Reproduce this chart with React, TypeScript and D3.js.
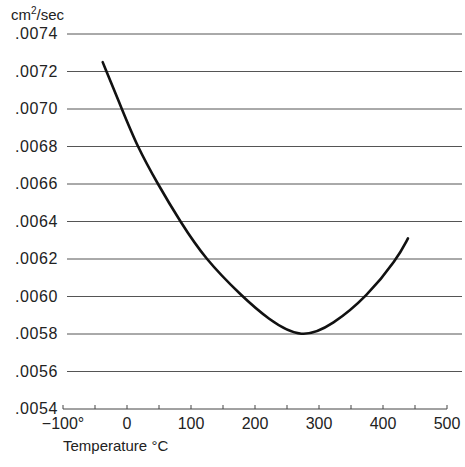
import React from "react";
import * as d3 from "d3";

const temps = [-38, -8, 16, 48, 83, 122, 180, 220, 273, 322, 375, 422, 439];
const diffusivity = [0.00725, 0.007, 0.0068, 0.0066, 0.0064, 0.0062, 0.006, 0.00588, 0.00577, 0.00585, 0.006, 0.0062, 0.00631];
const yTicks = [0.0054, 0.0056, 0.0058, 0.006, 0.0062, 0.0064, 0.0066, 0.0068, 0.007, 0.0072, 0.0074];
const xTicks = [-100, 0, 100, 200, 300, 400, 500];
const xTickLabels = ["\u2212100\u00b0", "0", "100", "200", "300", "400", "500"];

const width = 465;
const height = 467;
const font = "'Liberation Sans', Arial, sans-serif";

export default function App() {
  const x = d3.scaleLinear().domain([-100, 500]).range([63, 447]);
  const y = d3.scaleLinear().domain([0.0054, 0.0074]).range([409, 34]);

  const line = d3
    .line<number>()
    .x((d, i) => x(temps[i]))
    .y((d) => y(d))
    .curve(d3.curveBasis);

  const minorTicks = d3.range(-100, 501, 50);

  return (
    <svg width={width} height={height} style={{ position: "absolute", left: 0, top: 0, background: "#fff" }}>
      {/* gridlines */}
      {yTicks.slice(1).map((t) => (
        <line key={t} x1={67} x2={462} y1={y(t)} y2={y(t)} stroke="#555" strokeWidth={1} />
      ))}
      {/* bottom axis */}
      <line x1={x(-100)} x2={x(500)} y1={y(0.0054)} y2={y(0.0054)} stroke="#444" strokeWidth={1} />
      {minorTicks.map((t) => (
        <line key={t} x1={x(t)} x2={x(t)} y1={y(0.0054)} y2={y(0.0054) - 4} stroke="#444" strokeWidth={1} />
      ))}
      {/* y labels */}
      {yTicks.map((t) => (
        <text key={t} x={58} y={y(t) + 5} textAnchor="end" fontFamily={font} fontSize={16} letterSpacing={0.6} fill="#222">
          {d3.format(".4f")(t).replace(/^0/, "")}
        </text>
      ))}
      {xTicks.map((t, i) => (
        <text key={t} x={x(t)} y={429} textAnchor="middle" fontFamily={font} fontSize={16} fill="#222">
          {xTickLabels[i]}
        </text>
      ))}
      <text x={11} y={20} fontFamily={font} fontSize={15} fill="#222">
        cm<tspan dy={-6} fontSize={10}>2</tspan>
        <tspan dy={6}>/sec</tspan>
      </text>
      <text x={63} y={451} fontFamily={font} fontSize={15} fill="#222">
        Temperature {"\u00b0"}C
      </text>
      {/* curve */}
      <path d={line(diffusivity) || ""} fill="none" stroke="#111" strokeWidth={2.6} strokeLinecap="round" />
    </svg>
  );
}
